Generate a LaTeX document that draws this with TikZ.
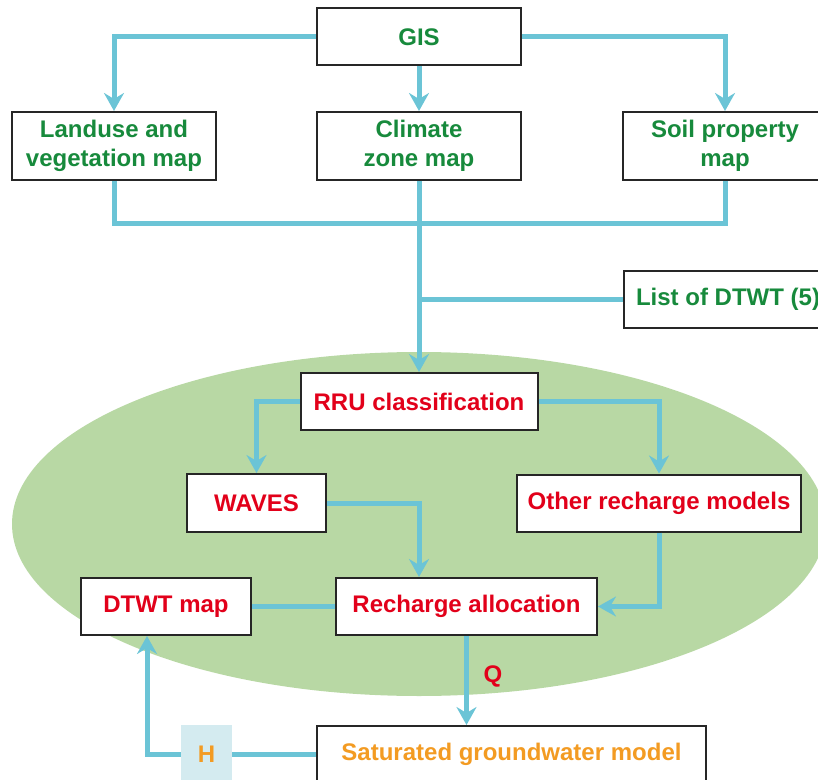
\documentclass[tikz,border=0pt]{standalone}
\usepackage{fontspec}
\setmainfont{Liberation Sans}
\usetikzlibrary{arrows.meta}

\definecolor{flowblue}{HTML}{6BC4D6}
\definecolor{inputgreen}{HTML}{178A3C}
\definecolor{modelred}{HTML}{E2001A}
\definecolor{gworange}{HTML}{F39B22}
\definecolor{blobgreen}{HTML}{B8D8A4}
\definecolor{hfill}{HTML}{D4EBF0}

\begin{document}
\begin{tikzpicture}[x=0.5pt, y=-0.5pt,
    lbl/.style={font=\fontsize{12}{14.5}\selectfont\bfseries},
    box/.style={lbl, draw=black!85, line width=1pt, fill=white, align=center, inner sep=0pt},
    gisbox/.style={box, text=inputgreen},
    modelbox/.style={box, text=modelred},
    link/.style={draw=flowblue, line width=2.5pt},
    flow/.style={link, -{Stealth[length=9pt, width=10pt, inset=3pt]}}]
    \useasboundingbox (0,0) rectangle (818,780);

    \fill[blobgreen] (419,524) ellipse [x radius=203.5pt, y radius=86pt];

    \node[gisbox, minimum width=102pt, minimum height=28.5pt] (gis) at (419,37) {GIS};
    \node[gisbox, minimum width=102pt, minimum height=34pt] (landuse) at (114,146) {Landuse and\\vegetation map};
    \node[gisbox, minimum width=102pt, minimum height=34pt] (climate) at (419,146) {Climate\\zone map};
    \node[gisbox, minimum width=102pt, minimum height=34pt] (soil) at (725,146) {Soil property\\map};
    \node[gisbox, minimum width=104pt, minimum height=28.5pt, anchor=west, inner xsep=5.5pt, align=left] (dtwtlist) at (623,299.5) {List of DTWT (5)};

    \node[modelbox, minimum width=118.5pt, minimum height=28.5pt] (rru) at (419,401.5) {RRU classification};
    \node[modelbox, minimum width=69.5pt, minimum height=29pt] (waves) at (256.5,503) {WAVES};
    \node[modelbox, minimum width=142pt, minimum height=28.5pt] (other) at (659,503) {Other recharge models};
    \node[modelbox, minimum width=85pt, minimum height=28.5pt] (dtwtmap) at (166,606.5) {DTWT map};
    \node[modelbox, minimum width=130.5pt, minimum height=28.5pt] (recharge) at (466.5,606.5) {Recharge allocation};

    \node[box, text=gworange, minimum width=194.5pt, minimum height=28.5pt] (satgw) at (511.5,754.5) {Saturated groundwater model};
    \node[lbl, fill=hfill, text=gworange, minimum width=25.5pt, minimum height=29.5pt, inner sep=0pt] (hbox) at (206.5,754.5) {H};

    \coordinate (join) at (419,224);

    \draw[flow] (gis.west) -| (landuse.north);
    \draw[flow] (gis.east) -| (soil.north);
    \draw[flow] (gis) -- (climate);
    \draw[link] (landuse.south) |- (join) -| (soil.south);
    \draw[flow] (climate) -- (rru);
    \draw[link] (dtwtlist.west) -- (dtwtlist.west -| rru.north);

    \draw[flow] (rru.west) -| (waves.north);
    \draw[flow] (rru.east) -| (other.north);
    \draw[flow] (waves.east) -| (recharge.north -| rru.south);
    \draw[flow] (other.south) |- (recharge.east);
    \draw[link] (recharge.west) -- (dtwtmap.east);

    \draw[flow] (recharge.south) -- node[lbl, right, xshift=4pt, yshift=2pt, text=modelred] {Q} (recharge.south |- satgw.north);
    \draw[link] (satgw.west) -- (hbox.east);
    \draw[flow] (hbox.west) -| ([xshift=-9.5pt]dtwtmap.south);

\end{tikzpicture}
\end{document}
